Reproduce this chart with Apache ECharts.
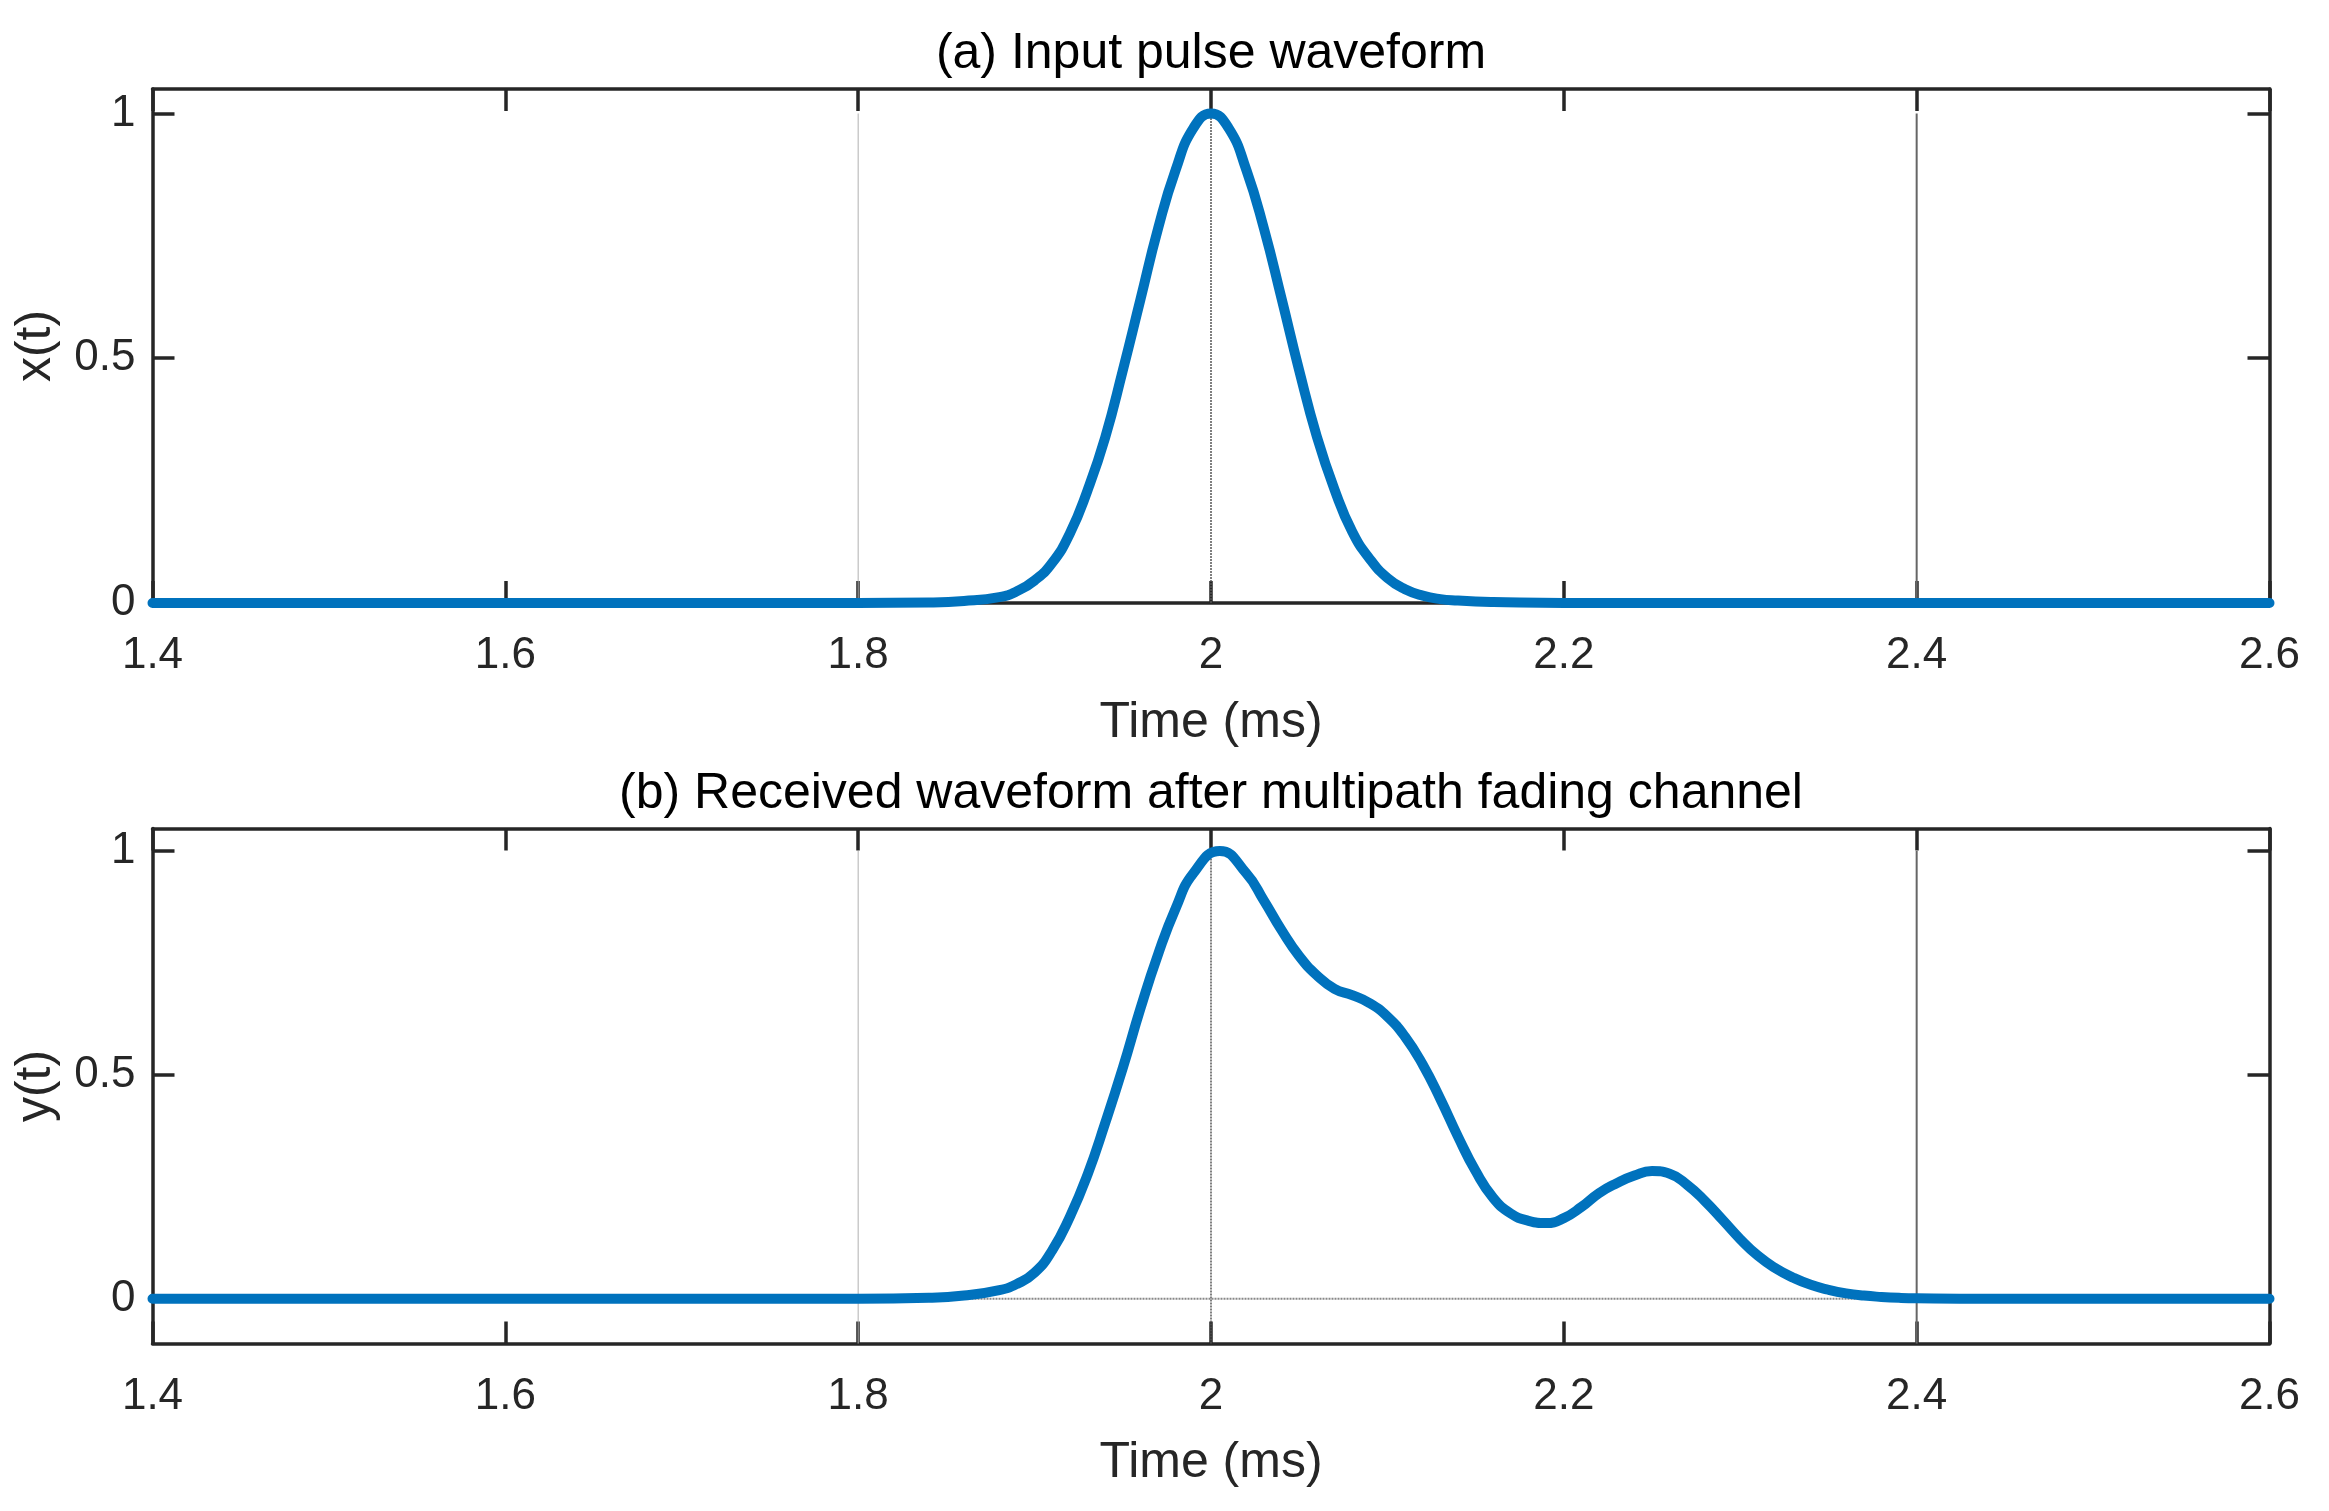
<!DOCTYPE html>
<html><head><meta charset="utf-8">
<script src="https://cdn.jsdelivr.net/npm/echarts@6/dist/echarts.min.js"></script>
<style>html,body{margin:0;padding:0;background:#fff}#c{width:2329px;height:1511px}</style>
</head><body><div id="c"></div>
<script>
// ---- data ----
const timeA  = [1.40, 1.80, 1.84, 1.86, 1.88, 1.89, 1.90, 1.91, 1.92, 1.93, 1.94, 1.95, 1.96, 1.97, 1.98, 1.99, 2.00,
                2.01, 2.02, 2.03, 2.04, 2.05, 2.06, 2.07, 2.08, 2.09, 2.10, 2.11, 2.12, 2.13, 2.14, 2.15, 2.16, 2.20, 2.60];
const pulseA = [0, 0, 0.001, 0.004, 0.012, 0.024, 0.046, 0.082, 0.142, 0.230, 0.338, 0.475, 0.620, 0.765, 0.885, 0.970, 1.000,
                0.970, 0.885, 0.765, 0.622, 0.475, 0.340, 0.232, 0.146, 0.090, 0.051, 0.028, 0.015, 0.008, 0.005, 0.003, 0.002, 0, 0];

const timeB     = [1.40, 1.80, 1.84, 1.86, 1.88, 1.89, 1.90, 1.91, 1.92, 1.93, 1.94, 1.95, 1.96, 1.97, 1.98, 1.99, 2.005,
                   2.02, 2.03, 2.04, 2.05, 2.06, 2.07, 2.08, 2.09, 2.10, 2.11, 2.12, 2.13, 2.14, 2.15, 2.16, 2.17, 2.18, 2.19,
                   2.20, 2.21, 2.22, 2.23, 2.24, 2.25, 2.26, 2.27, 2.28, 2.29, 2.30, 2.31, 2.32, 2.33, 2.34, 2.35, 2.36, 2.37, 2.38, 2.39, 2.40, 2.44, 2.60];
const receivedB = [0, 0, 0.002, 0.007, 0.019, 0.033, 0.058, 0.108, 0.183, 0.277, 0.392, 0.515, 0.648, 0.769, 0.872, 0.950, 1.000,
                   0.950, 0.889, 0.823, 0.765, 0.722, 0.692, 0.678, 0.660, 0.630, 0.585, 0.523, 0.446, 0.362, 0.285, 0.225, 0.190, 0.174, 0.169,
                   0.180, 0.205, 0.236, 0.258, 0.275, 0.285, 0.279, 0.254, 0.218, 0.176, 0.133, 0.096, 0.068, 0.047, 0.031, 0.020, 0.012, 0.007, 0.004, 0.002, 0.001, 0, 0];

const titles = ['(a) Input pulse waveform', '(b) Received waveform after multipath fading channel'];
const yNames = ['x(t)', 'y(t)'];
const xName = 'Time (ms)';
const xRange = [1.4, 2.6];
const xStep = 0.2;
const yRanges = [[0, 1.05], [-0.1, 1.05]];
const yTickValues = [0, 0.5, 1];
const refTimes = [1.8, 2.0, 2.4];
const refTop = 1;

// ---- styling ----
const FONT = "'Liberation Sans', Arial, Helvetica, sans-serif";
const AX = '#262626';
const BLUE = '#0072BD';
const grids = [
  {left: 152.5, top: 89, width: 2117, height: 514},
  {left: 152.5, top: 828.5, width: 2117, height: 515}
];
const refStyles = [
  {color: '#b0b0b0', width: 1},
  {color: '#555', width: 1.5, type: [2, 1]},
  {color: '#666', width: 2}
];

function zip(a, b) { return a.map((v, i) => [v, b[i]]); }

const xAxes = [], yAxes = [], series = [];
[0, 1].forEach(g => {
  const common = {
    type: 'value', gridIndex: g, min: xRange[0], max: xRange[1], interval: xStep,
    splitLine: {show: false},
    axisLine: {show: true, onZero: false, lineStyle: {color: AX, width: 3.5}},
    axisTick: {show: true, inside: true, length: 22, lineStyle: {color: AX, width: 3.5}}
  };
  xAxes.push(Object.assign({}, common, {
    position: 'bottom',
    axisLabel: {show: true, margin: 31, fontSize: 44, color: AX, fontFamily: FONT},
    name: xName, nameLocation: 'middle', nameGap: 95,
    nameTextStyle: {fontSize: 50, color: AX, fontFamily: FONT}
  }));
  xAxes.push(Object.assign({}, common, {position: 'top', axisLabel: {show: false}}));

  const ycommon = {
    type: 'value', gridIndex: g, min: yRanges[g][0], max: yRanges[g][1],
    splitLine: {show: false},
    axisLine: {show: true, onZero: false, lineStyle: {color: AX, width: 3.5}},
    axisTick: {show: true, inside: true, length: 22, customValues: yTickValues, lineStyle: {color: AX, width: 3.5}}
  };
  yAxes.push(Object.assign({}, ycommon, {
    position: 'left',
    axisLabel: {show: true, margin: 17, fontSize: 44, color: AX, fontFamily: FONT, customValues: yTickValues},
    name: yNames[g], nameLocation: 'middle', nameGap: 91,
    nameTextStyle: {fontSize: 50, color: AX, fontFamily: FONT}
  }));
  yAxes.push(Object.assign({}, ycommon, {position: 'right', axisLabel: {show: false}}));

  // reference lines (drawn beneath the waveform)
  refTimes.forEach((t, i) => {
    series.push({
      type: 'line', xAxisIndex: 2 * g, yAxisIndex: 2 * g, z: 1, silent: true,
      showSymbol: false, symbol: 'none', animation: false,
      data: [[t, yRanges[g][0]], [t, refTop]],
      lineStyle: refStyles[i]
    });
  });
  if (g === 1) {
    series.push({
      type: 'line', xAxisIndex: 2, yAxisIndex: 2, z: 1, silent: true,
      showSymbol: false, symbol: 'none', animation: false,
      data: [[xRange[0], 0], [xRange[1], 0]],
      lineStyle: {color: '#888', width: 2, type: [2, 1]}
    });
  }
});

series.push({
  type: 'line', xAxisIndex: 0, yAxisIndex: 0, z: 3, clip: false,
  data: zip(timeA, pulseA), smooth: 0.5, showSymbol: false, symbol: 'none', animation: false,
  lineStyle: {color: BLUE, width: 10, cap: 'round', join: 'round'}
});
series.push({
  type: 'line', xAxisIndex: 2, yAxisIndex: 2, z: 3, clip: false,
  data: zip(timeB, receivedB), smooth: 0.5, showSymbol: false, symbol: 'none', animation: false,
  lineStyle: {color: BLUE, width: 10, cap: 'round', join: 'round'}
});

const chart = echarts.init(document.getElementById('c'), null, {renderer: 'canvas'});
chart.setOption({
  backgroundColor: '#fff',
  animation: false,
  grid: grids,
  xAxis: xAxes,
  yAxis: yAxes,
  series: series,
  graphic: [
    {type: 'text', x: 1211, y: 54, style: {text: titles[0], fontSize: 50, fill: '#000', fontFamily: FONT, align: 'center', verticalAlign: 'middle'}},
    {type: 'text', x: 1211, y: 794, style: {text: titles[1], fontSize: 50, fill: '#000', fontFamily: FONT, align: 'center', verticalAlign: 'middle'}}
  ]
});
</script></body></html>
